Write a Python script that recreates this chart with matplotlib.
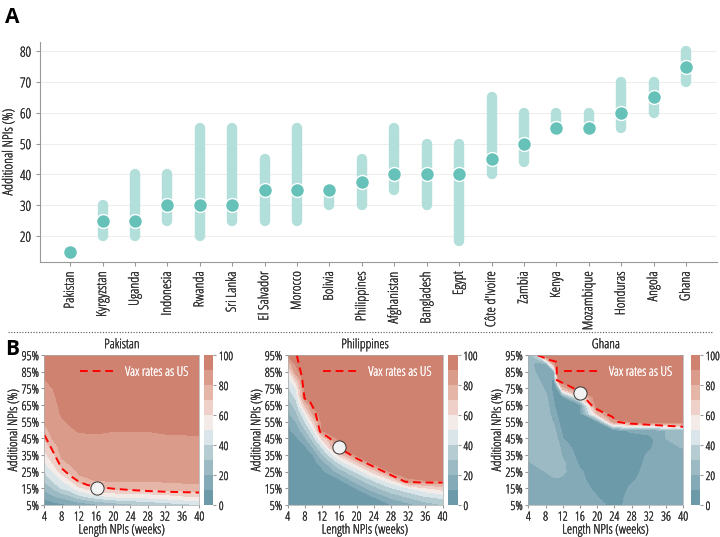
import numpy as np
import matplotlib.pyplot as plt
import matplotlib.patheffects as pe
from matplotlib.text import Text

plt.rcParams['font.family'] = ['Open Sans', 'DejaVu Sans']
plt.rcParams['font.stretch'] = 'condensed'

# ---- panel A: additional NPIs needed per country ----
countries = ['Pakistan', 'Kyrgyzstan', 'Uganda', 'Indonesia', 'Rwanda', 'Sri Lanka',
             'El Salvador', 'Morocco', 'Bolivia', 'Philippines', 'Afghanistan',
             'Bangladesh', 'Egypt', "Côte d'Ivoire", 'Zambia', 'Kenya', 'Mozambique',
             'Honduras', 'Angola', 'Ghana']
medians = [15, 25, 25, 30, 30, 30, 35, 35, 35, 37.5, 40, 40, 40, 45, 50, 55, 55, 60, 65, 75]
lows = [15, 20, 20, 25, 20, 25, 25, 25, 30, 30, 35, 30, 18.5, 40, 44, 55, 55, 55, 60, 70]
highs = [15, 30, 40, 40, 55, 55, 45, 55, 35, 45, 55, 50, 50, 65, 60, 60, 60, 70, 70, 80]

# ---- panel B: contour grids (columns = weeks, values bottom->top in npi_pct) ----
npi_pct = [5, 10, 15, 20, 25, 30, 35, 40, 45, 50, 55, 60, 65, 70, 75, 80, 85, 90, 95]

pak_weeks = [4, 6, 8, 10, 12, 16, 20, 24, 28, 32, 36, 40]
pak_cols = [
    [3, 12, 22, 32, 40, 48, 56, 63, 70, 77, 81, 83, 85, 86, 88, 89.5, 92, 95, 97],
    [5, 18, 30, 42, 50, 60, 67, 74, 81, 83, 84, 85, 86, 88, 90, 92, 94, 96, 97],
    [7, 22, 40, 50, 64, 76, 82, 84, 85.5, 87, 88.5, 91, 92.5, 94, 95, 96, 97, 98, 98],
    [10, 27, 45, 60, 72, 81, 83, 85, 87, 89, 91, 93, 94, 95, 96, 97, 98, 98, 99],
    [12, 35, 56, 76, 82, 84, 85.5, 87, 88.5, 90.5, 92, 93, 94, 95, 96, 97, 98, 98, 99],
    [16, 45, 67, 80.5, 82, 83.5, 85, 87, 89, 90.8, 92, 93, 94, 95, 96, 97, 98, 98, 99],
    [22, 50, 71, 81.5, 83, 84.5, 86, 87.3, 88.5, 90.2, 91.5, 93, 94, 95, 96, 97, 98, 98, 99],
    [26, 52, 72, 81.5, 83, 84.5, 86, 87.3, 88.5, 90.2, 91.5, 93, 94, 95, 96, 97, 98, 98, 99],
    [30, 53, 72, 81.5, 83, 84.5, 86, 87.3, 88.5, 90.2, 91.5, 93, 94, 95, 96, 97, 98, 98, 99],
    [33, 55, 73, 82, 83.5, 85, 86.5, 88, 89, 90.8, 92, 93, 94, 95, 96, 97, 98, 98, 99],
    [36, 58, 75, 82.5, 84, 85.5, 87, 88.3, 89.2, 91, 92, 93, 94, 95, 96, 97, 98, 98, 99],
    [38, 60, 76, 83, 84.5, 86, 87.3, 88.5, 89.3, 91, 92, 93, 94, 95, 96, 97, 98, 98, 99],
]
pak_line_x = [4, 6, 8, 10, 12, 14, 16, 20, 24, 28, 32, 36, 40]
pak_line_y = [47, 37, 27, 22.5, 19, 17, 16, 14.8, 14, 13.4, 13, 12.7, 12.5]
pak_dot = (16.2, 15.5)

phl_weeks = [4, 6, 8, 10, 12, 16, 20, 24, 28, 32, 36, 40]
phl_cols = [
    [3, 3, 3, 3, 4, 4, 5, 5, 6, 8, 10, 17, 23, 30, 37, 43, 50, 72, 92],
    [3, 3, 3, 4, 4, 5, 5, 6, 8, 13, 20, 28, 35, 43, 50, 65, 86, 92, 95],
    [3, 3, 4, 4, 5, 5, 6, 8, 17, 28, 39, 50, 70, 90, 93, 95, 96, 97, 98],
    [3, 4, 4, 5, 5, 7, 10, 22, 35, 47, 64, 83, 92, 94, 95, 96, 97, 98, 98],
    [4, 4, 5, 5, 7, 13, 27, 41, 61, 90, 93, 95, 96, 97, 97, 98, 98, 99, 99],
    [4, 5, 6, 8, 23, 40, 61, 90, 93, 95, 96, 97, 97, 98, 98, 99, 99, 99, 99],
    [5, 7, 10, 25, 41, 63, 91, 93, 95, 96, 97, 97, 98, 98, 98, 99, 99, 99, 99],
    [7, 10, 25, 41, 63, 91, 93, 95, 96, 97, 97, 98, 98, 98, 99, 99, 99, 99, 99],
    [9, 22, 38, 57, 90, 93, 95, 96, 97, 97, 98, 98, 98, 99, 99, 99, 99, 99, 99],
    [16, 31, 47, 89, 93, 95, 96, 97, 97, 98, 98, 98, 99, 99, 99, 99, 99, 99, 99],
    [24, 39, 57, 90, 93, 95, 96, 97, 97, 98, 98, 98, 99, 99, 99, 99, 99, 99, 99],
    [29, 43, 64, 91, 93, 95, 96, 97, 97, 98, 98, 98, 99, 99, 99, 99, 99, 99, 99],
]
phl_line_x = [6.1, 7.3, 7.9, 9.2, 10.4, 11.5, 13.8, 16.2, 20, 24, 28, 31.3, 35, 40]
phl_line_y = [95, 82, 69, 67, 61, 49, 45, 39, 33, 28, 23, 19, 18.5, 18.5]
phl_dot = (16, 40)

gha_weeks = [4, 6, 8, 10, 11, 12, 16, 20, 24, 28, 32, 36, 40]
gha_cols = [
    [15, 15, 15, 15, 15, 18, 22, 26, 26, 26, 26, 26, 26, 26, 26, 26, 26, 24, 22],
    [15, 15, 15, 15, 16, 22, 26, 27, 27, 27, 27, 27, 27, 27, 25, 22, 18, 16, 40],
    [14, 14, 14, 15, 20, 26, 27, 27, 27, 27, 27, 26, 25, 22, 18, 14, 12, 18, 99],
    [13, 13, 14, 18, 24, 26, 27, 26, 25, 22, 18, 14, 10, 8, 6, 8, 15, 85, 99],
    [13, 13, 14, 18, 24, 26, 25, 22, 18, 14, 10, 7, 5, 5, 12, 88, 99, 99, 99],
    [13, 13, 14, 17, 22, 22, 18, 14, 10, 7, 5, 5, 5, 8, 72, 98, 99, 99, 99],
    [14, 14, 13, 12, 11, 8, 6, 5, 5, 5, 5, 5, 6, 60, 98, 99, 99, 99, 99],
    [12, 10, 8, 6, 5, 5, 5, 5, 5, 5, 5, 70, 98, 99, 99, 99, 99, 99, 99],
    [8, 7, 6, 5, 5, 5, 5, 5, 6, 6, 86, 98, 99, 99, 99, 99, 99, 99, 99],
    [12, 12, 11, 9, 7, 6, 5, 5, 5, 12, 90, 99, 99, 99, 99, 99, 99, 99, 99],
    [14, 14, 14, 13, 13, 12, 11, 8, 6, 15, 96, 99, 99, 99, 99, 99, 99, 99, 99],
    [14, 14, 14, 14, 14, 14, 14, 16, 20, 20, 97, 99, 99, 99, 99, 99, 99, 99, 99],
    [14, 14, 14, 14, 14, 14, 15, 21, 25, 25, 98, 99, 99, 99, 99, 99, 99, 99, 99],
]
gha_line_x = [6.1, 9.1, 10.6, 10.6, 13.1, 16.1, 17.8, 19.2, 21.9, 23.5, 24.7, 27, 40]
gha_line_y = [95, 92, 91, 80, 77, 73, 67.5, 63.5, 60, 58, 55, 54, 52]
gha_dot = (16, 72)

levels = np.arange(0, 101, 10)
band_colors = ['#6d9aa8', '#83aab6', '#9bbac4', '#b6ccd3', '#d9e5e8',
               '#f3ebe8', '#efd0c8', '#e5b5a8', '#da9b8b', '#d08270']
txt = '#2a2a2a'

fig = plt.figure(figsize=(7.2, 5.37), dpi=100)

# ---------------- A ----------------
ax = fig.add_axes([0.0556, 0.512, 0.94, 0.41])
xpos = np.arange(len(countries))
ax.vlines(xpos, lows, highs, colors='#b3dfdb', lw=7.5, capstyle='round', zorder=2)
ax.plot(xpos, medians, 'o', ms=10, mfc='#66c2b9', mec='white', mew=1, zorder=3)
ax.set_xlim(-0.93, 19.95)
ax.set_ylim(11.6, 83)
ax.set_yticks([20, 30, 40, 50, 60, 70, 80])
ax.set_xticks(xpos)
ax.set_xticklabels(countries, rotation=90, fontsize=10, color=txt)
ax.tick_params(axis='y', labelsize=10, labelcolor=txt, color='#999', length=3)
ax.tick_params(axis='x', color='#999', length=3)
ax.grid(axis='y', color='#eeeeee', lw=0.8, zorder=0)
ax.set_axisbelow(True)
for s in ['top', 'right']:
    ax.spines[s].set_visible(False)
for s in ['left', 'bottom']:
    ax.spines[s].set_color('#999')
    ax.spines[s].set_linewidth(0.8)
ax.set_ylabel('Additional NPIs (%)', fontsize=10, color=txt)
ax.yaxis.set_label_coords(-0.035, 0.5)

fig.text(0.007, 0.968, 'A', fontsize=15, fontweight='bold', va='center')
fig.add_artist(plt.Line2D([0.011, 0.989], [1 - 332 / 537] * 2, color='#555',
                          ls=(0, (1, 1.5)), lw=0.8))
fig.text(0.007, 0.35, 'B', fontsize=15, fontweight='bold', va='center')

# ---------------- B ----------------
panels = [
    ('Pakistan', pak_weeks, pak_cols, pak_line_x, pak_line_y, pak_dot, 0.0618, 0.2833),
    ('Philippines', phl_weeks, phl_cols, phl_line_x, phl_line_y, phl_dot, 0.3996, 0.6229),
    ('Ghana', gha_weeks, gha_cols, gha_line_x, gha_line_y, gha_dot, 0.7338, 0.9593),
]
for name, weeks, cols, lx, ly, dot, left, cleft in panels:
    bx = fig.add_axes([left, 0.0596, 0.215, 0.279])
    Z = np.array(cols).T
    cs = bx.contourf(weeks, npi_pct, Z, levels=levels, colors=band_colors)
    cs.set_edgecolor('face')
    cs.set_linewidth(0.3)
    bx.plot(lx, ly, color='red', ls='--', lw=1.4, dashes=(4, 2.5), label='Vax rates as US')
    bx.plot(dot[0], dot[1], 'o', ms=9.5, mfc='#f2f2f2', mec='#333', mew=0.7, zorder=5)
    bx.set_xlim(4, 40)
    bx.set_ylim(5, 95)
    bx.set_xticks(range(4, 41, 4))
    bx.set_yticks(range(5, 96, 10))
    bx.set_yticklabels([f'{v}%' for v in range(5, 96, 10)])
    bx.tick_params(labelsize=9, labelcolor=txt, color='#999', length=2.5, pad=1.5)
    for s in bx.spines.values():
        s.set_color('#aaa')
        s.set_linewidth(0.5)
    bx.set_xlabel('Length NPIs (weeks)', fontsize=9.5, color=txt, labelpad=0)
    bx.set_ylabel('Additional NPIs (%)', fontsize=9.5, color=txt, labelpad=1)
    bx.set_title(name, fontsize=9.5, color=txt, pad=5)
    bx.legend(loc='upper right', frameon=False, fontsize=9.5, labelcolor='white',
              handlelength=2.6, borderaxespad=0.4)
    cax = fig.add_axes([cleft, 0.0596, 0.013, 0.279])
    cb = fig.colorbar(cs, cax=cax, ticks=[0, 20, 40, 60, 80, 100])
    cb.outline.set_visible(False)
    cax.tick_params(labelsize=8.5, labelcolor=txt, color='#999', length=2.5, pad=1.5)

# light condensed face looks thin; thicken strokes a touch
fig.canvas.draw()
for t in fig.findobj(Text):
    if t.get_text() and t.get_fontweight() != 'bold':
        t.set_path_effects([pe.Stroke(linewidth=0.2, foreground=t.get_color()), pe.Normal()])

fig.savefig('out.png', dpi=100)
